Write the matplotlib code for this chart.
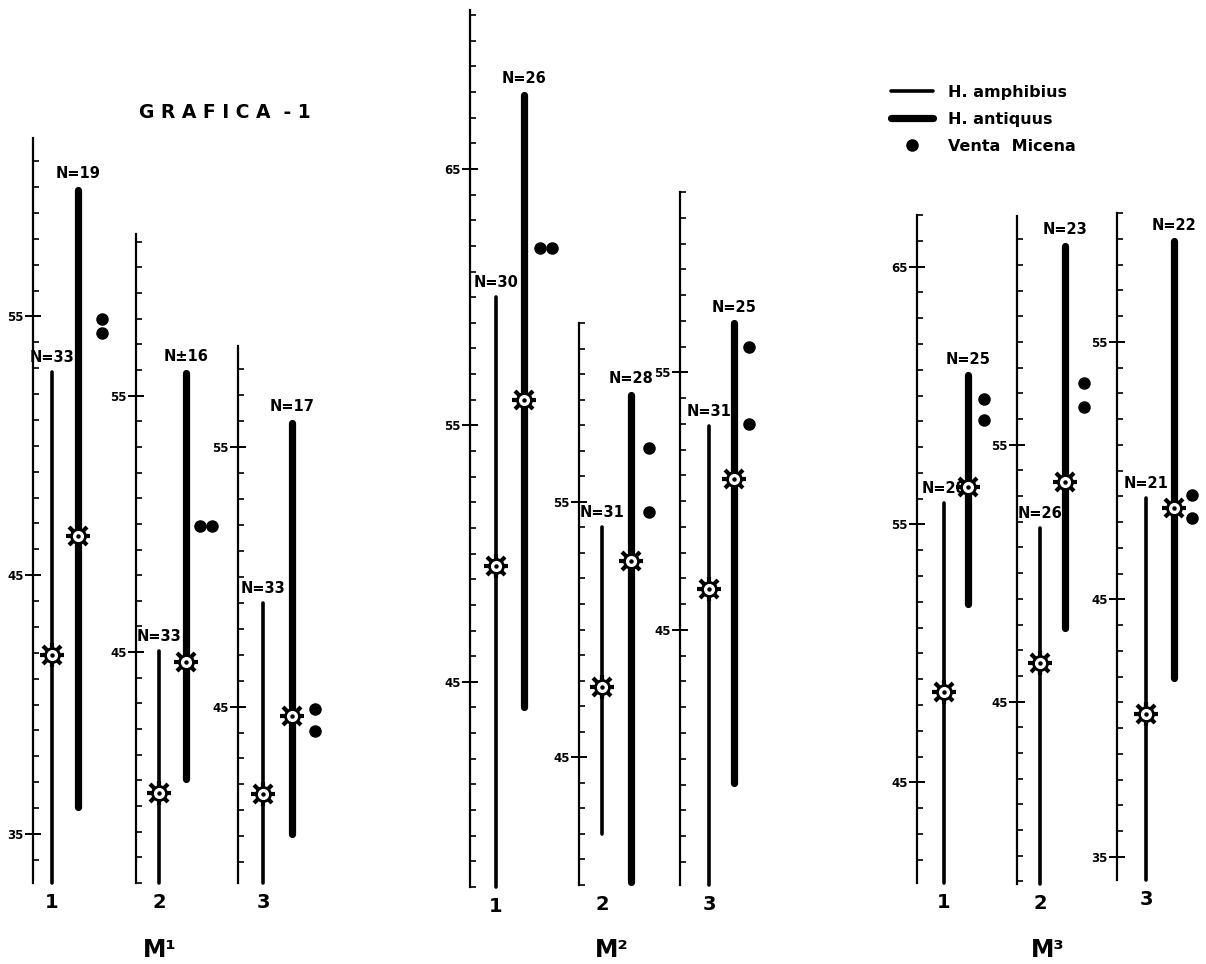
import matplotlib
matplotlib.use("Agg")
import matplotlib.pyplot as plt
from matplotlib.ticker import FixedLocator, MultipleLocator

# values (mm), order: M1-1, M1-2, M1-3, M2-1, M2-2, M2-3, M3-1, M3-2, M3-3
tooth = ["M¹", "M²", "M³"]
pos_labels = ["1", "2", "3"] * 3

axis_lo = [33.1, 36.0, 38.2, 37.0, 40.0, 35.1, 41.1, 37.9, 34.1]
axis_hi = [61.9, 61.3, 58.9, 71.2, 62.0, 62.0, 67.0, 63.9, 60.0]

amph_min = [33.1, 36.0, 38.2, 37.0, 42.0, 35.1, 41.1, 37.9, 34.1]
amph_max = [52.85, 45.05, 49.0, 60.0, 54.0, 52.9, 55.85, 51.75, 48.95]
amph_mean = [41.9, 39.5, 41.65, 49.5, 47.75, 46.6, 48.5, 46.5, 40.55]
amph_n = ["N=33", "N=33", "N=33", "N=30", "N=31", "N=31", "N=28", "N=26", "N=21"]

anti_min = [36.05, 40.05, 40.1, 44.0, 40.1, 39.05, 51.9, 47.85, 41.95]
anti_max = [59.9, 55.9, 55.95, 67.9, 59.2, 56.9, 60.8, 62.75, 58.9]
anti_mean = [46.5, 44.6, 44.65, 56.0, 52.7, 50.85, 56.45, 53.55, 48.55]
anti_n = ["N=19", "N±16", "N=17", "N=26", "N=28", "N=25", "N=25", "N=23", "N=22"]

venta = [[54.9, 54.35], [49.9, 49.9], [44.9, 44.05],
         [61.9, 61.9], [57.1, 54.6], [56.0, 53.0],
         [59.85, 59.07], [57.4, 56.45], [49.05, 48.15]]

# layout in pixels
W, H = 1206, 964
spine_x = [33, 136, 238, 470, 579, 680, 917, 1017, 1117]
bottom_px = [883, 883, 883, 887, 885, 885, 883, 884, 880]
top_px = [138, 234, 346, 10, 323, 192, 215, 216, 213]
thin_dx = [19, 23, 25, 26, 23, 29, 27, 23, 29]
thick_dx = [45, 50, 54, 54, 52, 54, 51, 48, 57]
dot_dx = [69, 64, 77, 70, 70, 69, 67, 67, 75]
group_x = [160, 612, 1048]

fig = plt.figure(figsize=(W / 100, H / 100), dpi=100)


def mean_marker(ax, x, y):
    kw = dict(clip_on=False, zorder=5)
    ax.plot(x, y, marker="+", ms=17, mew=3, color="k", **kw)
    ax.plot(x, y, marker="x", ms=12.5, mew=3, color="k", **kw)
    ax.plot(x, y, "o", ms=11, color="k", **kw)
    ax.plot(x, y, "o", ms=7, mfc="w", mec="w", **kw)
    ax.plot(x, y, "o", ms=2.2, color="k", **kw)


for i in range(9):
    rect = [spine_x[i] / W, 1 - bottom_px[i] / H, 100 / W,
            (bottom_px[i] - top_px[i]) / H]
    ax = fig.add_axes(rect)
    ax.patch.set_visible(False)
    ax.set_xlim(0, 100)
    ax.set_ylim(axis_lo[i], axis_hi[i])
    for s in ["top", "right", "bottom"]:
        ax.spines[s].set_visible(False)
    ax.spines["left"].set_linewidth(1.6)

    ax.yaxis.set_major_locator(FixedLocator([35, 45, 55, 65]))
    ax.yaxis.set_minor_locator(MultipleLocator(1))
    ax.tick_params(axis="y", which="major", direction="inout", length=11,
                   width=1.4, labelsize=8.5, pad=1)
    ax.tick_params(axis="y", which="minor", direction="in", length=4, width=1.2)
    for t in ax.get_yticklabels():
        t.set_fontweight("bold")

    ax.set_xticks([thin_dx[i]], [pos_labels[i]])
    ax.tick_params(axis="x", length=0, pad=7, labelsize=14)
    for t in ax.get_xticklabels():
        t.set_fontweight("bold")

    l1, = ax.plot([thin_dx[i]] * 2, [amph_min[i], amph_max[i]], color="k",
                  lw=2.6, solid_capstyle="round", clip_on=False,
                  label="H. amphibius")
    l2, = ax.plot([thick_dx[i]] * 2, [anti_min[i], anti_max[i]], color="k",
                  lw=5.2, solid_capstyle="round", clip_on=False,
                  label="H. antiquus")
    mean_marker(ax, thin_dx[i], amph_mean[i])
    mean_marker(ax, thick_dx[i], anti_mean[i])

    vals = venta[i]
    if vals[0] == vals[1]:
        xs = [dot_dx[i], dot_dx[i] + 12]
    else:
        xs = [dot_dx[i]] * len(vals)
    l3, = ax.plot(xs, vals, "o", color="k", ms=8, clip_on=False,
                  label="Venta  Micena")

    ax.annotate(amph_n[i], (thin_dx[i], amph_max[i]), xytext=(0, 5),
                textcoords="offset points", ha="center", va="bottom",
                fontsize=10.5, fontweight="bold")
    ax.annotate(anti_n[i], (thick_dx[i], anti_max[i]), xytext=(0, 6),
                textcoords="offset points", ha="center", va="bottom",
                fontsize=10.5, fontweight="bold")

    if i == 0:
        handles = [l1, l2, l3]

for g in range(3):
    fig.text(group_x[g] / W, 1 - 950 / H, tooth[g], ha="center", va="center",
             fontsize=17, fontweight="bold")

fig.text(225 / W, 1 - 113 / H, "G R A F I C A  - 1", ha="center", va="center",
         fontsize=13.5, fontweight="bold")

fig.legend(handles=handles, loc="upper left",
           bbox_to_anchor=(891 / W, 1 - 85 / H), frameon=False,
           prop={"size": 11.5, "weight": "bold"}, handlelength=2.6,
           handletextpad=1.0, labelspacing=0.75, borderpad=0,
           borderaxespad=0, numpoints=1)

fig.savefig("out.png", dpi=100)
